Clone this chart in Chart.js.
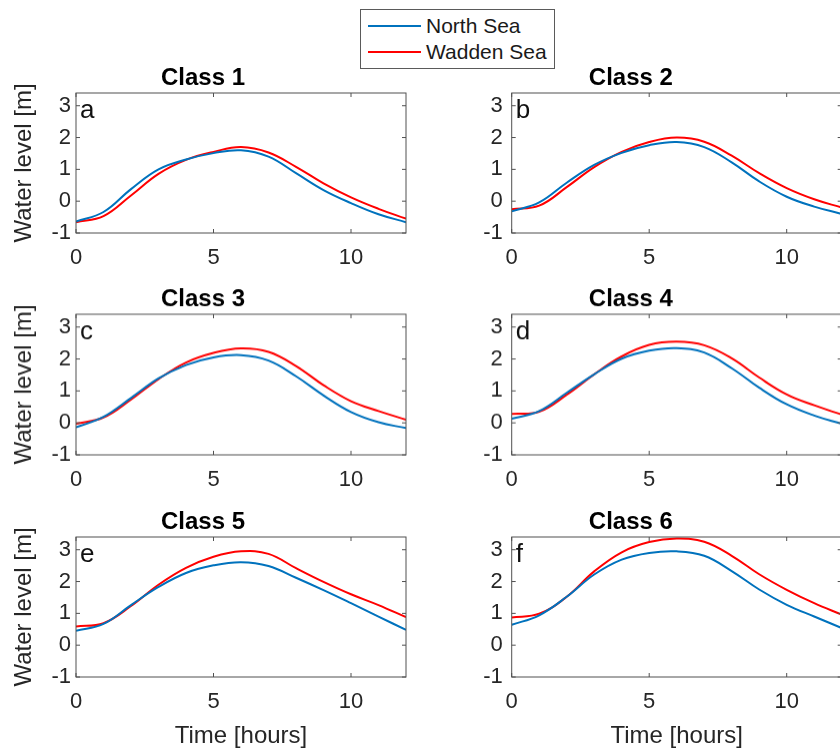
<!DOCTYPE html>
<html>
<head>
<meta charset="utf-8">
<script src="https://cdn.jsdelivr.net/npm/chart.js@4.4.1/dist/chart.umd.min.js"></script>
<style>
  html, body { margin: 0; padding: 0; background: #fff; overflow: hidden; width: 840px; height: 751px; }
  .panel { position: absolute; }
  #legend { position: absolute; left: 360px; top: 9px; width: 195px; height: 60px; box-sizing: border-box;
            border: 1px solid #5a5a5a; background: #fff; font-family: "Liberation Sans", Arial, sans-serif;
            font-size: 21px; color: #1a1a1a; }
  #legend .ln { position: absolute; left: 7px; width: 53px; height: 2px; }
  #legend .tx { position: absolute; left: 65px; line-height: 24px; white-space: nowrap; }
</style>
</head>
<body>
<div id="legend">
  <div class="ln" style="top:15px;background:#0072BD"></div><div class="tx" style="top:4px">North Sea</div>
  <div class="ln" style="top:41px;background:#FF0000"></div><div class="tx" style="top:30px">Wadden Sea</div>
</div>

<script>
// ---------------- DATA ----------------
const hours = [0, 1, 2, 3, 4, 5, 6, 7, 8, 9, 10, 11, 12];
const xTickValues = [0, 5, 10];
const yTickValues = [-1, 0, 1, 2, 3];
const seriesNames = ["North Sea", "Wadden Sea"];
const panelTitles = ["Class 1", "Class 2", "Class 3", "Class 4", "Class 5", "Class 6"];
const panelLetters = ["a", "b", "c", "d", "e", "f"];

const class1North  = [-0.64, -0.34, 0.38, 1.00, 1.31, 1.51, 1.60, 1.40, 0.88, 0.35, -0.06, -0.41, -0.66];
const class1Wadden = [-0.66, -0.47, 0.18, 0.86, 1.30, 1.55, 1.70, 1.53, 1.08, 0.56, 0.12, -0.24, -0.55];
const class2North  = [-0.32, -0.04, 0.58, 1.14, 1.52, 1.76, 1.86, 1.70, 1.22, 0.62, 0.14, -0.17, -0.40];
const class2Wadden = [-0.25, -0.14, 0.44, 1.07, 1.55, 1.86, 2.00, 1.87, 1.43, 0.88, 0.41, 0.06, -0.20];
const class3North  = [-0.14, 0.19, 0.78, 1.39, 1.81, 2.05, 2.12, 1.95, 1.46, 0.86, 0.34, 0.02, -0.16];
const class3Wadden = [-0.03, 0.17, 0.73, 1.37, 1.89, 2.19, 2.33, 2.22, 1.78, 1.18, 0.68, 0.37, 0.10];
const class4North  = [0.13, 0.37, 0.94, 1.52, 2.01, 2.26, 2.34, 2.20, 1.71, 1.10, 0.58, 0.23, -0.03];
const class4Wadden = [0.28, 0.35, 0.88, 1.52, 2.08, 2.44, 2.54, 2.43, 2.02, 1.42, 0.89, 0.55, 0.26];
const class5North  = [0.45, 0.67, 1.26, 1.83, 2.27, 2.51, 2.61, 2.49, 2.12, 1.73, 1.32, 0.90, 0.48];
const class5Wadden = [0.59, 0.69, 1.23, 1.90, 2.43, 2.78, 2.95, 2.87, 2.42, 1.99, 1.60, 1.26, 0.88];
const class6North  = [0.64, 0.94, 1.52, 2.22, 2.69, 2.90, 2.95, 2.81, 2.33, 1.75, 1.27, 0.90, 0.54];
const class6Wadden = [0.87, 0.99, 1.52, 2.32, 2.92, 3.24, 3.35, 3.25, 2.81, 2.23, 1.74, 1.32, 0.96];

const northSeries  = [class1North, class2North, class3North, class4North, class5North, class6North];
const waddenSeries = [class1Wadden, class2Wadden, class3Wadden, class4Wadden, class5Wadden, class6Wadden];

// ---------------- LAYOUT / STYLE ----------------
const FONT = '"Liberation Sans", Arial, Helvetica, sans-serif';
const BLUE = '#0072BD', RED = '#FF0000', AXIS = '#505050', TEXT = '#262626';
const rowAxesTop = [93.3, 314.3, 536.7];
const rowAxesH = [140, 140.7, 140];
const colCanvasLeft = [0, 420];
const colCanvasW = [420, 440];
const colYAxisW = [76, 91.7];
const colPadRight = [14, 18.3];

const boxPlugin = {
  id: 'matlabBox',
  afterDatasetsDraw(chart, args, opts) {
    const { ctx, chartArea: a, scales: { x, y } } = chart;
    ctx.save();
    ctx.strokeStyle = AXIS;
    ctx.lineWidth = 1;
    ctx.strokeRect(a.left, a.top, a.right - a.left, a.bottom - a.top);
    ctx.beginPath();
    const L = 4;
    x.ticks.forEach(t => {
      const px = x.getPixelForValue(t.value);
      ctx.moveTo(px, a.bottom); ctx.lineTo(px, a.bottom - L);
      ctx.moveTo(px, a.top); ctx.lineTo(px, a.top + L);
    });
    y.ticks.forEach(t => {
      const py = y.getPixelForValue(t.value);
      ctx.moveTo(a.left, py); ctx.lineTo(a.left + L, py);
      ctx.moveTo(a.right, py); ctx.lineTo(a.right - L, py);
    });
    ctx.stroke();
    ctx.fillStyle = '#111';
    ctx.font = '26px ' + FONT;
    ctx.textBaseline = 'alphabetic';
    ctx.textAlign = 'left';
    ctx.fillText(opts.letter, a.left + 4, a.top + 25);
    ctx.restore();
  }
};

function makePanel(i) {
  const row = Math.floor(i / 2), col = i % 2;
  const isBottom = row === 2;
  const axesTop = rowAxesTop[row];
  const xScaleH = isBottom ? 75 : 40;
  const canvasTop = axesTop - 45;
  const canvasH = 45 + rowAxesH[row] + xScaleH;

  const cv = document.createElement('canvas');
  cv.className = 'panel';
  cv.style.left = colCanvasLeft[col] + 'px';
  cv.style.top = canvasTop + 'px';
  cv.style.width = colCanvasW[col] + 'px';
  cv.style.height = canvasH + 'px';
  cv.width = colCanvasW[col];
  cv.height = canvasH;
  document.body.appendChild(cv);

  const toPts = arr => hours.map((h, k) => ({ x: h, y: arr[k] }));

  new Chart(cv, {
    type: 'line',
    data: {
      datasets: [
        { label: seriesNames[0], data: toPts(northSeries[i]), borderColor: BLUE, borderWidth: 2,
          pointRadius: 0, tension: 0.4, fill: false },
        { label: seriesNames[1], data: toPts(waddenSeries[i]), borderColor: RED, borderWidth: 2,
          pointRadius: 0, tension: 0.4, fill: false }
      ]
    },
    options: {
      responsive: false,
      animation: false,
      events: [],
      layout: { padding: { left: 0, right: colPadRight[col], top: 0, bottom: 0 } },
      plugins: {
        legend: { display: false },
        tooltip: { enabled: false },
        title: { display: true, text: panelTitles[i], color: '#000',
                 font: { family: FONT, size: 24, weight: 'bold', lineHeight: 1.2 },
                 padding: { top: 15.6, bottom: 0.6 } },
        matlabBox: { letter: panelLetters[i] }
      },
      scales: {
        x: {
          type: 'linear', min: 0, max: 12,
          afterFit: s => { s.height = xScaleH; },
          afterBuildTicks: s => { s.ticks = xTickValues.map(v => ({ value: v })); },
          ticks: { color: TEXT, font: { family: FONT, size: 22 }, padding: 12, maxRotation: 0, includeBounds: false },
          grid: { display: false, drawTicks: false },
          border: { display: false },
          title: { display: isBottom, text: 'Time [hours]', color: TEXT,
                   font: { family: FONT, size: 24, lineHeight: 1.2 }, padding: { top: 0, bottom: 1.6 } }
        },
        y: {
          type: 'linear', min: -1, max: 3.4,
          afterFit: s => { s.width = colYAxisW[col]; },
          afterBuildTicks: s => { s.ticks = yTickValues.map(v => ({ value: v })); },
          ticks: { color: TEXT, font: { family: FONT, size: 22 }, padding: col === 0 ? 5 : 9, includeBounds: false },
          grid: { display: false, drawTicks: false },
          border: { display: false },
          title: { display: col === 0, text: 'Water level [m]', color: TEXT,
                   font: { family: FONT, size: 24, lineHeight: 1.2 }, padding: { top: 10, bottom: 0 } }
        }
      }
    },
    plugins: [boxPlugin]
  });
}

for (let i = 0; i < 6; i++) makePanel(i);
</script>
</body>
</html>
